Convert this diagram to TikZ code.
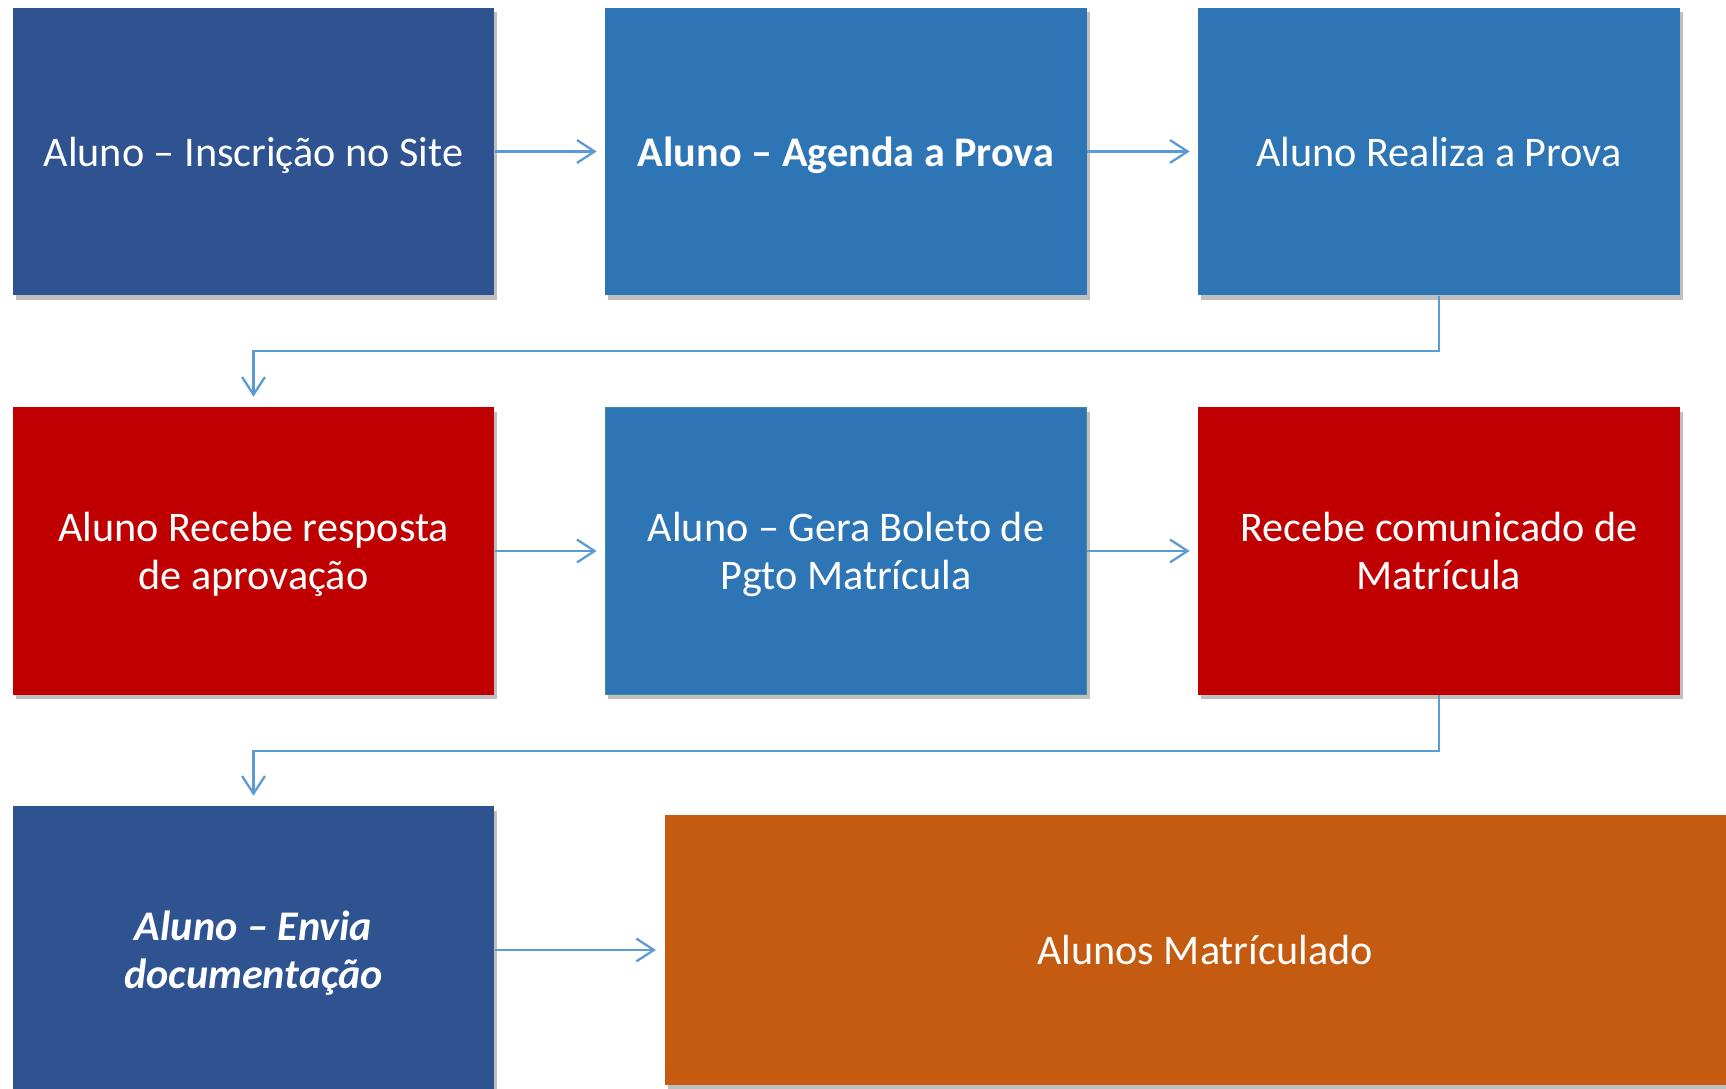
\documentclass[tikz,border=0pt]{standalone}
\usepackage{fontspec}
\setmainfont{Carlito}
\usetikzlibrary{arrows.meta,shadows}
\definecolor{darkblue}{HTML}{2F5391}
\definecolor{midblue}{HTML}{2E75B6}
\definecolor{darkred}{HTML}{C00000}
\definecolor{burnt}{HTML}{C55A11}
\definecolor{linkblue}{HTML}{5B9BD5}
\definecolor{tealline}{HTML}{3D8F95}
\tikzset{
  box/.style={minimum width=4.81cm,minimum height=2.87cm,inner sep=0pt,
    text=white,align=center,text depth=0pt,font=\fontsize{12}{13.7}\selectfont,
    drop shadow={shadow xshift=0.03cm,shadow yshift=-0.045cm,fill=black,opacity=0.25}},
  link/.style={draw=linkblue,line width=0.65pt,
    -{Straight Barb[length=5pt,width=6.5pt]},shorten >=0.08cm}
}
\begin{document}
\begin{tikzpicture}[x=0.01cm,y=-0.01cm]
  \useasboundingbox (0,0) rectangle (1726,1089);
  \begin{scope}[every node/.style={box}]
  \node[fill=darkblue] (a) at (253.5,151.5) {Aluno -- Inscrição no Site};
  \node[fill=midblue] (b) at (846,151.5) {\bfseries Aluno -- Agenda a Prova};
  \node[fill=midblue] (c) at (1439,151.5) {Aluno Realiza a Prova};
  \node[fill=darkred] (d) at (253.5,551) {Aluno Recebe resposta\\de aprovação};
  \node[fill=midblue,draw=tealline,line width=0.4pt] (e) at (846,551) {Aluno -- Gera Boleto de\\Pgto Matrícula};
  \node[fill=darkred] (f) at (1439,551) {Recebe comunicado de\\Matrícula};
  \node[fill=darkblue,font=\fontsize{12}{13.7}\selectfont\bfseries\itshape] (g) at (253.5,950) {Aluno -- Envia\\documentação};
  \node[fill=burnt,minimum width=10.8cm,minimum height=2.69cm] (h) at (1205,950) {Alunos Matrículado};
  \end{scope}
  \begin{scope}[every edge/.style={link}]
  \path (a) edge (b);
  \path (b) edge (c);
  \path (d) edge (e);
  \path (e) edge (f);
  \path (g) edge (h);
  \end{scope}
  \draw[link,shorten >=0.1cm] (c.south) -- ++(0,55) -| (d.north);
  \draw[link,shorten >=0.1cm] (f.south) -- ++(0,56) -| (g.north);
\end{tikzpicture}
\end{document}
